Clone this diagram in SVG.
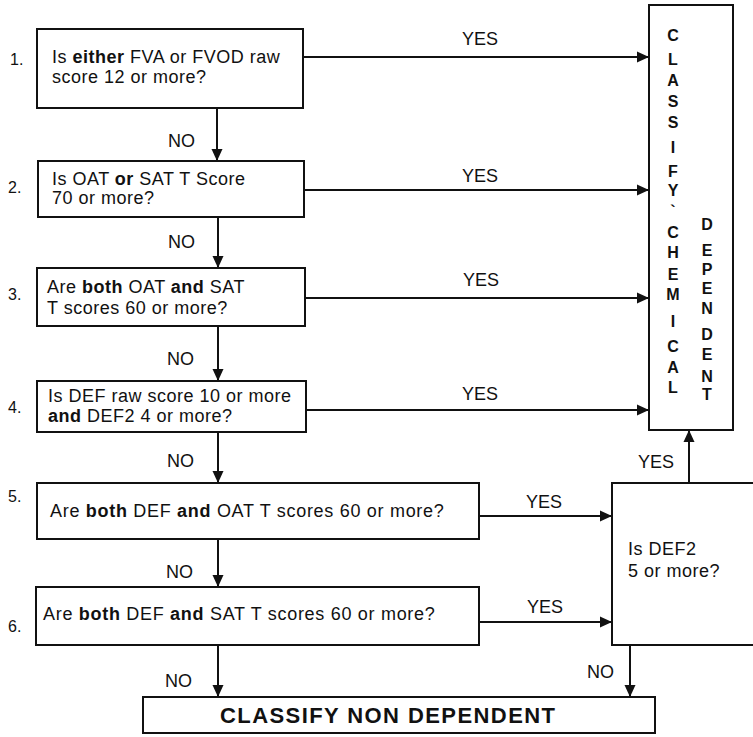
<svg xmlns="http://www.w3.org/2000/svg" width="753" height="737" viewBox="0 0 753 737">
<style>
  .box { fill: #fff; stroke: #111; stroke-width: 2; }
  .t { font-family: "Liberation Sans", Arial, Helvetica, sans-serif; font-size: 18px; letter-spacing: 0.5px; fill: #111; }
  .b { font-weight: bold; }
  .num { font-family: "Liberation Sans", Arial, Helvetica, sans-serif; font-size: 16px; fill: #111; }
  .lbl { font-family: "Liberation Sans", Arial, Helvetica, sans-serif; font-size: 18px; fill: #111; }
  .v { font-family: "Liberation Sans", Arial, Helvetica, sans-serif; font-size: 16px; font-weight: bold; fill: #111; text-anchor: middle; }
  .big { font-family: "Liberation Sans", Arial, Helvetica, sans-serif; font-size: 22px; font-weight: bold; fill: #111; }
  .c { fill: none; stroke: #111; stroke-width: 2; }
</style>
<defs>
  <marker id="arr" markerUnits="userSpaceOnUse" markerWidth="14" markerHeight="14" refX="12" refY="7" orient="auto">
    <path d="M0,1.5 L12,7 L0,12.5 z" fill="#111"/>
  </marker>
</defs>
<rect width="753" height="737" fill="#fff"/>

<g id="connectors">
  <line class="c" x1="303" y1="57" x2="649" y2="57" marker-end="url(#arr)"/>
  <line class="c" x1="304" y1="190" x2="649" y2="190" marker-end="url(#arr)"/>
  <line class="c" x1="305" y1="298" x2="649" y2="298" marker-end="url(#arr)"/>
  <line class="c" x1="306" y1="410" x2="649" y2="410" marker-end="url(#arr)"/>
  <line class="c" x1="217" y1="108" x2="217" y2="161" marker-end="url(#arr)"/>
  <line class="c" x1="218" y1="217" x2="218" y2="268" marker-end="url(#arr)"/>
  <line class="c" x1="218" y1="326" x2="218" y2="381" marker-end="url(#arr)"/>
  <line class="c" x1="218" y1="432" x2="218" y2="483" marker-end="url(#arr)"/>
  <line class="c" x1="218" y1="539" x2="218" y2="587" marker-end="url(#arr)"/>
  <line class="c" x1="218" y1="645" x2="218" y2="697" marker-end="url(#arr)"/>
  <line class="c" x1="479" y1="516" x2="612" y2="516" marker-end="url(#arr)"/>
  <line class="c" x1="479" y1="622" x2="612" y2="622" marker-end="url(#arr)"/>
  <line class="c" x1="689" y1="483" x2="689" y2="430" marker-end="url(#arr)"/>
  <line class="c" x1="630" y1="645" x2="630" y2="697" marker-end="url(#arr)"/>
  <text class="lbl" x="462" y="45">YES</text>
  <text class="lbl" x="462" y="182">YES</text>
  <text class="lbl" x="463" y="286">YES</text>
  <text class="lbl" x="462" y="400">YES</text>
  <text class="lbl" x="526" y="508">YES</text>
  <text class="lbl" x="527" y="613">YES</text>
  <text class="lbl" x="638" y="468">YES</text>
  <text class="lbl" x="168" y="147">NO</text>
  <text class="lbl" x="168" y="248">NO</text>
  <text class="lbl" x="167" y="365">NO</text>
  <text class="lbl" x="167" y="467">NO</text>
  <text class="lbl" x="166" y="578">NO</text>
  <text class="lbl" x="165" y="687">NO</text>
  <text class="lbl" x="587" y="678">NO</text>
</g>

<g id="q1">
  <rect class="box" x="37" y="29" width="266" height="79"/>
  <text class="num" x="10" y="65">1.</text>
  <text class="t" x="52" y="63">Is <tspan class="b">either</tspan> FVA or FVOD raw</text>
  <text class="t" x="52" y="83">score 12 or more?</text>
</g>
<g id="q2">
  <rect class="box" x="38" y="161" width="266" height="56"/>
  <text class="num" x="8" y="193">2.</text>
  <text class="t" x="52" y="185">Is OAT <tspan class="b">or</tspan> SAT T Score</text>
  <text class="t" x="52" y="204">70 or more?</text>
</g>
<g id="q3">
  <rect class="box" x="37" y="268" width="268" height="58"/>
  <text class="num" x="8" y="300">3.</text>
  <text class="t" x="47" y="293">Are <tspan class="b">both</tspan> OAT <tspan class="b">and</tspan> SAT</text>
  <text class="t" x="47" y="314">T scores 60 or more?</text>
</g>
<g id="q4">
  <rect class="box" x="37" y="381" width="269" height="51"/>
  <text class="num" x="8" y="413">4.</text>
  <text class="t" x="48" y="402">Is DEF raw score 10 or more</text>
  <text class="t" x="48" y="422"><tspan class="b">and</tspan> DEF2 4 or more?</text>
</g>
<g id="q5">
  <rect class="box" x="37" y="483" width="442" height="56"/>
  <text class="num" x="8" y="502">5.</text>
  <text class="t" x="50" y="517" style="letter-spacing:0.7px">Are <tspan class="b">both</tspan> DEF <tspan class="b">and</tspan> OAT T scores 60 or more?</text>
</g>
<g id="q6">
  <rect class="box" x="36" y="587" width="443" height="58"/>
  <text class="num" x="8" y="632">6.</text>
  <text class="t" x="43" y="620" style="letter-spacing:0.7px">Are <tspan class="b">both</tspan> DEF <tspan class="b">and</tspan> SAT T scores 60 or more?</text>
</g>
<g id="def2">
  <rect class="box" x="612" y="483" width="160" height="162"/>
  <text class="t" x="628" y="555">Is DEF2</text>
  <text class="t" x="628" y="577">5 or more?</text>
</g>
<g id="dependent">
  <rect class="box" x="649" y="5" width="84" height="425"/>
  <text class="v" x="673" y="41">C</text>
  <text class="v" x="673" y="65">L</text>
  <text class="v" x="673" y="86">A</text>
  <text class="v" x="673" y="107">S</text>
  <text class="v" x="673" y="128">S</text>
  <text class="v" x="673" y="153">I</text>
  <text class="v" x="673" y="177">F</text>
  <text class="v" x="673" y="196">Y</text>
  <text class="v" x="673" y="217">`</text>
  <text class="v" x="673" y="238">C</text>
  <text class="v" x="673" y="258">H</text>
  <text class="v" x="673" y="280">E</text>
  <text class="v" x="673" y="300">M</text>
  <text class="v" x="673" y="327">I</text>
  <text class="v" x="673" y="352">C</text>
  <text class="v" x="673" y="373">A</text>
  <text class="v" x="673" y="393">L</text>
  <text class="v" x="707" y="230">D</text>
  <text class="v" x="707" y="256">E</text>
  <text class="v" x="707" y="275">P</text>
  <text class="v" x="707" y="294">E</text>
  <text class="v" x="707" y="314">N</text>
  <text class="v" x="707" y="340">D</text>
  <text class="v" x="707" y="360">E</text>
  <text class="v" x="707" y="382">N</text>
  <text class="v" x="707" y="400">T</text>
</g>
<g id="nondependent">
  <rect class="box" x="143" y="697" width="512" height="36"/>
  <text class="big" x="220" y="723" textLength="335" lengthAdjust="spacing">CLASSIFY NON DEPENDENT</text>
</g>
</svg>
